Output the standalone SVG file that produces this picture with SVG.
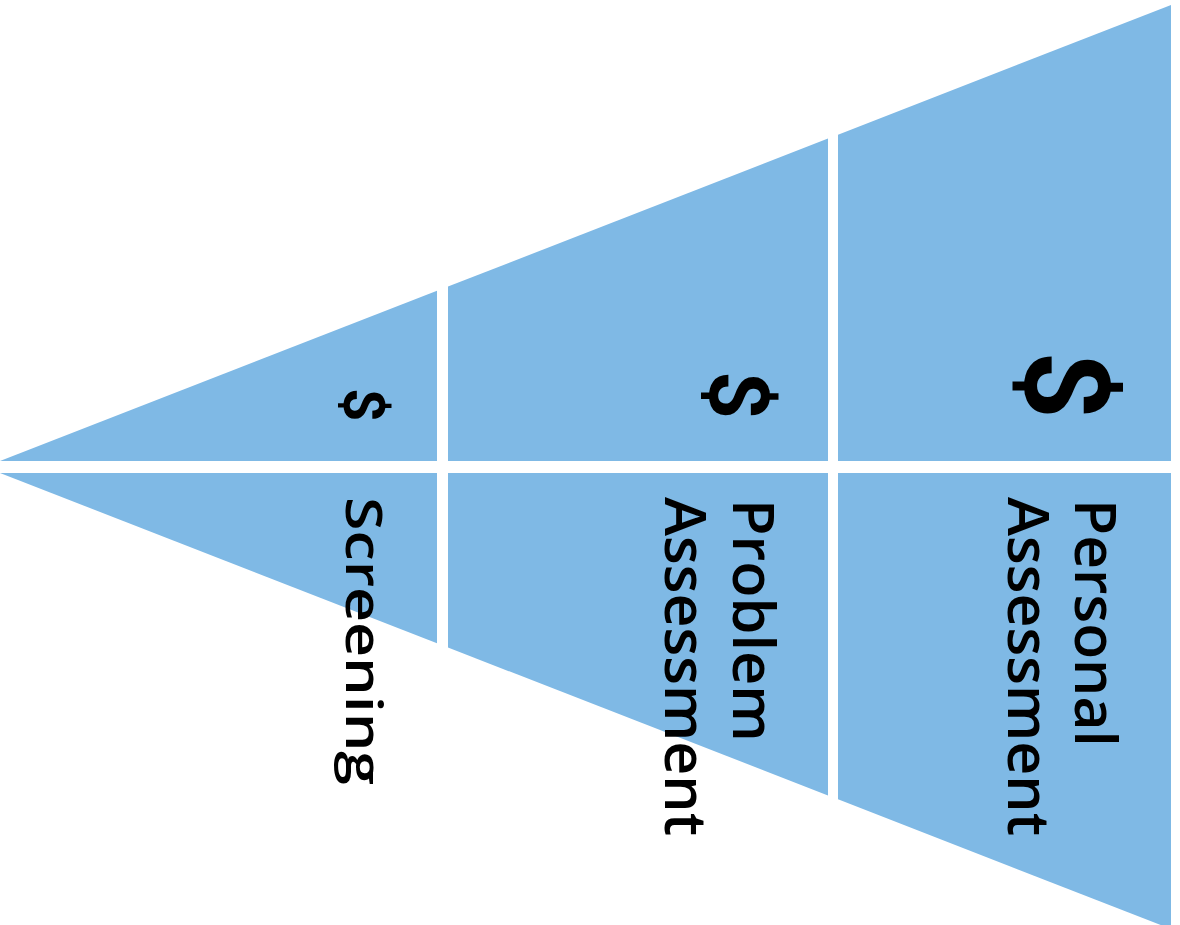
<svg xmlns="http://www.w3.org/2000/svg" width="1180" height="925" viewBox="0 0 1180 925">
  <style>
    .cell { fill: #7fb9e5; }
    .lbl { font-family: "Open Sans", "Noto Sans", "Liberation Sans", sans-serif; font-weight: 600; fill: #000; }
    .cost { font-family: Roboto, "Open Sans", "Liberation Sans", sans-serif; font-weight: 700; fill: #000; text-anchor: middle; }
  </style>
  <rect x="0" y="0" width="1180" height="925" fill="#ffffff"/>
  <g id="screening">
    <polygon class="cell" points="0,461 437,290.8 437,461"/>
    <polygon class="cell" points="0,473 437,473 437,643.2"/>
    <text class="cost" font-size="58" transform="translate(344,405) rotate(90)">$</text>
    <text class="lbl" font-size="50" transform="translate(346,497) rotate(90)" textLength="288" lengthAdjust="spacingAndGlyphs">Screening</text>
  </g>
  <g id="problem-assessment">
    <polygon class="cell" points="448,461 448,286.6 828,138.6 828,461"/>
    <polygon class="cell" points="448,473 828,473 828,795.4 448,647.5"/>
    <text class="cost" font-size="84" transform="translate(710,395) rotate(90)">$</text>
    <text class="lbl" font-size="57" transform="translate(733,499) rotate(90)" textLength="243" lengthAdjust="spacingAndGlyphs">Problem</text>
    <text class="lbl" font-size="57" transform="translate(665,497) rotate(90)" textLength="339" lengthAdjust="spacingAndGlyphs">Assessment</text>
  </g>
  <g id="personal-assessment">
    <polygon class="cell" points="838,461 838,134.7 1171,5 1171,461"/>
    <polygon class="cell" points="838,473 1171,473 1171,929 838,799.3"/>
    <text class="cost" font-size="118" transform="translate(1025,385) rotate(90)">$</text>
    <text class="lbl" font-size="57" transform="translate(1075,499) rotate(90)" textLength="248" lengthAdjust="spacingAndGlyphs">Personal</text>
    <text class="lbl" font-size="57" transform="translate(1008,497) rotate(90)" textLength="339" lengthAdjust="spacingAndGlyphs">Assessment</text>
  </g>
  <g id="connectors"></g>
</svg>
